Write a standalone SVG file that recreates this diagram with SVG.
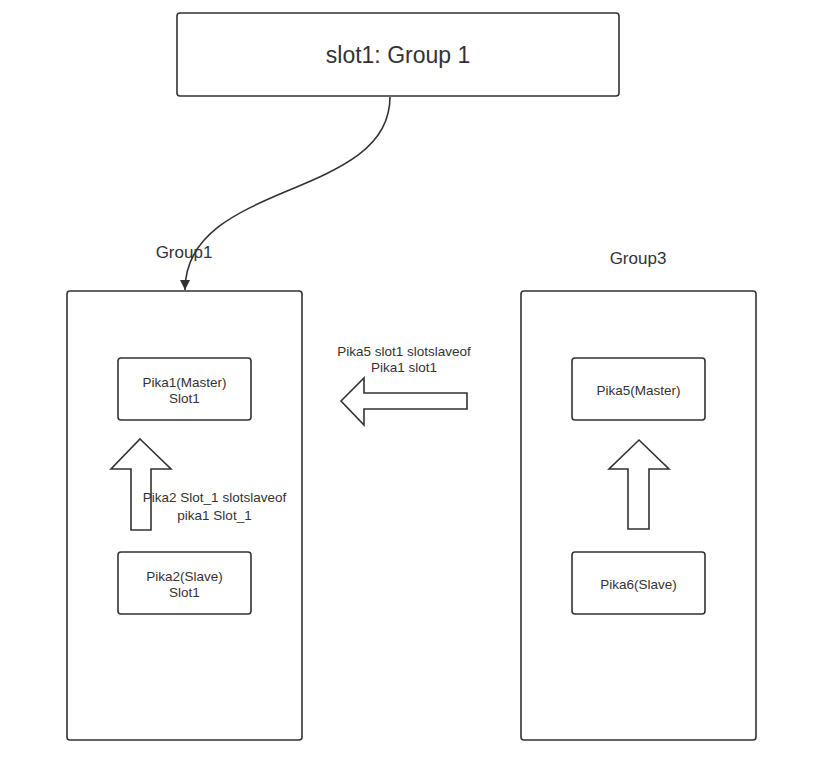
<svg xmlns="http://www.w3.org/2000/svg" width="828" height="767" viewBox="0 0 828 767">
<style>
.box{fill:#fff;stroke:#323232;stroke-width:1.6}
.arr{fill:#fff;stroke:#323232;stroke-width:1.6;stroke-linejoin:miter}
text{font-family:"Liberation Sans",Arial,sans-serif;fill:#333;text-anchor:middle}
.s{font-size:13.5px}
.m{font-size:17px}
.l{font-size:23px}
</style>
<defs>
<marker id="ah" viewBox="0 0 10 10" refX="10" refY="5" markerWidth="10" markerHeight="10" markerUnits="userSpaceOnUse" orient="auto">
<path d="M0,0 L10,5 L0,10 Z" fill="#323232"/>
</marker>
</defs>
<rect width="828" height="767" fill="#fff"/>
<g id="slot1">
<rect class="box" x="177" y="13" width="442" height="83" rx="3"/>
<text class="l" x="398" y="63">slot1: Group 1</text>
</g>
<g id="group1">
<rect class="box" x="67" y="291" width="235" height="449" rx="3"/>
<text class="m" x="184" y="258">Group1</text>
</g>
<g id="group3">
<rect class="box" x="521" y="291" width="235" height="449" rx="3"/>
<text class="m" x="638" y="264">Group3</text>
</g>
<g id="pika1">
<rect class="box" x="118" y="358" width="133" height="62" rx="3"/>
<text class="s" x="184.5" y="387">Pika1(Master)</text>
<text class="s" x="184.5" y="403">Slot1</text>
</g>
<g id="pika2">
<rect class="box" x="118" y="552" width="133" height="62" rx="3"/>
<text class="s" x="184.5" y="581">Pika2(Slave)</text>
<text class="s" x="184.5" y="597">Slot1</text>
</g>
<g id="pika5">
<rect class="box" x="572" y="358" width="133" height="62" rx="3"/>
<text class="s" x="638.5" y="395">Pika5(Master)</text>
</g>
<g id="pika6">
<rect class="box" x="572" y="552" width="133" height="62" rx="3"/>
<text class="s" x="638.5" y="589">Pika6(Slave)</text>
</g>
<g id="connectors">
<path d="M390,97 C390,200 185,180 185,290" fill="none" stroke="#323232" stroke-width="1.6" marker-end="url(#ah)"/>
<polygon class="arr" points="140,439 171,469 151,469 151,530 131,530 131,469 111,469"/>
<polygon class="arr" points="639,440 669,469 649,469 649,529 628,529 628,469 609,469"/>
<polygon class="arr" points="341,401 364,378 364,393 467,393 467,409 364,409 364,425"/>
<text class="s" x="214.5" y="502">Pika2 Slot_1 slotslaveof</text>
<text class="s" x="214.5" y="520">pika1 Slot_1</text>
<text class="s" x="404" y="356">Pika5 slot1 slotslaveof</text>
<text class="s" x="404" y="372">Pika1 slot1</text>
</g>
</svg>
